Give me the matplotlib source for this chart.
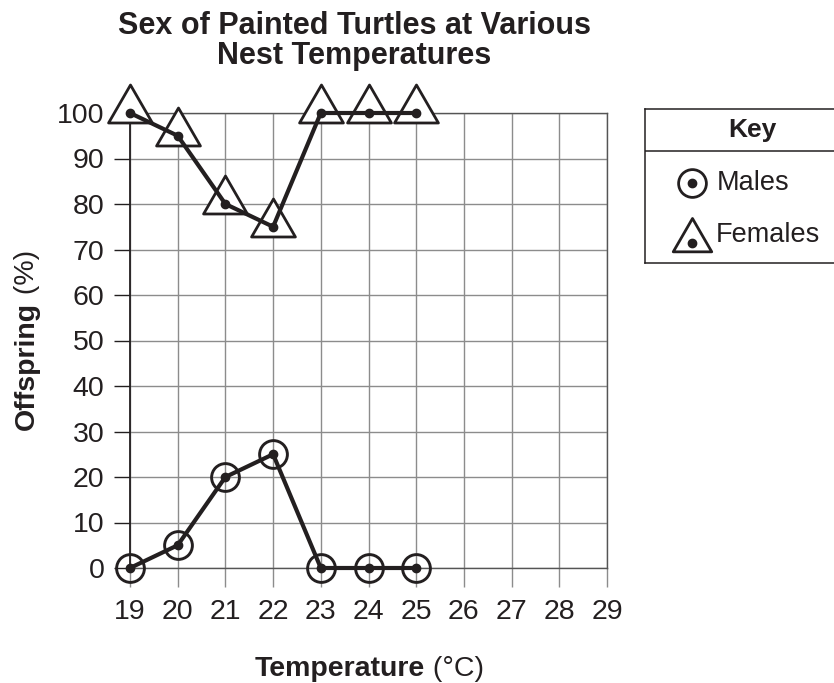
import matplotlib
matplotlib.use("Agg")
import matplotlib.pyplot as plt
from matplotlib.path import Path
from matplotlib.transforms import IdentityTransform
import numpy as np

plt.rcParams['font.family'] = ['Liberation Sans', 'DejaVu Sans']

temps = [19, 20, 21, 22, 23, 24, 25]
males = [0, 5, 20, 25, 0, 0, 0]
females = [100, 95, 80, 75, 100, 100, 100]
xticks = list(range(19, 30))
yticks = list(range(0, 101, 10))

title = "Sex of Painted Turtles at Various\nNest Temperatures"

W, H = 834, 683
fig = plt.figure(figsize=(W / 100, H / 100), dpi=100)
ax = fig.add_axes([130 / W, 115 / H, 477 / W, 455 / H])
ax.set_xlim(19, 29)
ax.set_ylim(0, 100)

# triangle marker whose centre point sits 3/4 down
tri = Path([(0, 3), (-2.31, -1), (2.31, -1), (0, 3)],
           [Path.MOVETO, Path.LINETO, Path.LINETO, Path.CLOSEPOLY])

GRID = '#8c8c8c'
DARK = '#231f20'
ax.set_xticks(xticks)
ax.set_yticks(yticks)
ax.grid(True, color=GRID, lw=1.0, zorder=0.5)
ax.set_axisbelow(True)
for s in ['top', 'right', 'bottom']:
    ax.spines[s].set_color('#555555')
    ax.spines[s].set_linewidth(1.0)
ax.spines['left'].set_color(DARK)
ax.spines['left'].set_linewidth(1.3)
ax.tick_params(axis='x', length=13.5, width=1.0, color=GRID, pad=9,
               labelsize=20.5, labelcolor=DARK)
ax.tick_params(axis='y', length=11.5, width=1.0, color=DARK, pad=7,
               labelsize=20.5, labelcolor=DARK)

# females: white triangles, line, dots
ax.plot(temps, females, linestyle='none', marker=tri, ms=41, mfc='white',
        mec=DARK, mew=2.0, zorder=3, clip_on=False)
ax.plot(temps, females, color=DARK, lw=3.0, zorder=4, clip_on=False,
        solid_capstyle='round')
ax.plot(temps, females, linestyle='none', marker='o', ms=6, color=DARK,
        zorder=5, clip_on=False)

# males: open circles, line, dots
ax.plot(temps, males, linestyle='none', marker='o', ms=20, mfc='none',
        mec=DARK, mew=2.1, zorder=3, clip_on=False)
ax.plot(temps, males, color=DARK, lw=3.0, zorder=4, clip_on=False,
        solid_capstyle='round')
ax.plot(temps, males, linestyle='none', marker='o', ms=6, color=DARK,
        zorder=5, clip_on=False)

# title
fig.text(354 / W, 1 - 11 / H, title, ha='center', va='top', fontsize=22,
         fontweight='bold', color=DARK, linespacing=0.98)

# legend box
lax = fig.add_axes([645 / W, 420 / H, 300 / W, 154 / H])
lax.set_xlim(0, 300)
lax.set_ylim(0, 154)
lax.set_xticks([])
lax.set_yticks([])
lax.patch.set_alpha(0)
lax.spines['right'].set_visible(False)
for s in ['left', 'top', 'bottom']:
    lax.spines[s].set_color(DARK)
    lax.spines[s].set_linewidth(1.1)
lax.axhline(112, color=DARK, lw=1.1)
lax.text(107, 133, 'Key', ha='center', va='center', fontsize=19,
         fontweight='bold', color=DARK)
lax.plot([47], [80], marker='o', ms=20, mfc='none', mec=DARK, mew=2.0)
lax.plot([47], [80], marker='o', ms=6, color=DARK)
lax.text(72, 80, 'Males', ha='left', va='center', fontsize=19.5, color=DARK)
lax.plot([47], [20], marker=tri, ms=36, mfc='white', mec=DARK, mew=2.0)
lax.plot([47], [20], marker='o', ms=6, color=DARK)
lax.text(71, 28, 'Females', ha='left', va='center', fontsize=19.5, color=DARK)

# axis labels with bold + regular parts
fig.canvas.draw()
r = fig.canvas.get_renderer()
idt = IdentityTransform()

xb = fig.text(0, 0, 'Temperature', fontsize=20.5, fontweight='bold',
              color=DARK, transform=idt, ha='left', va='baseline')
xr = fig.text(0, 0, '\u00a0(°C)', fontsize=20.5, color=DARK, transform=idt,
              ha='left', va='baseline')
wb = xb.get_window_extent(r).width
wr = xr.get_window_extent(r).width
x0 = 369 - (wb + wr) / 2
ybase = H - 676
xb.set_position((x0, ybase))
xr.set_position((x0 + wb, ybase))

yb = fig.text(0, 0, 'Offspring', fontsize=20.5, fontweight='bold',
              color=DARK, transform=idt, rotation=90, rotation_mode='anchor',
              ha='left', va='baseline')
yr = fig.text(0, 0, '\u00a0(%)', fontsize=20.5, color=DARK, transform=idt,
              rotation=90, rotation_mode='anchor', ha='left', va='baseline')
hb = yb.get_window_extent(r).height
hr = yr.get_window_extent(r).height
y0 = (H - 340) - (hb + hr) / 2
xline = 34
yb.set_position((xline, y0))
yr.set_position((xline, y0 + hb))

fig.savefig('out.png', dpi=100)
